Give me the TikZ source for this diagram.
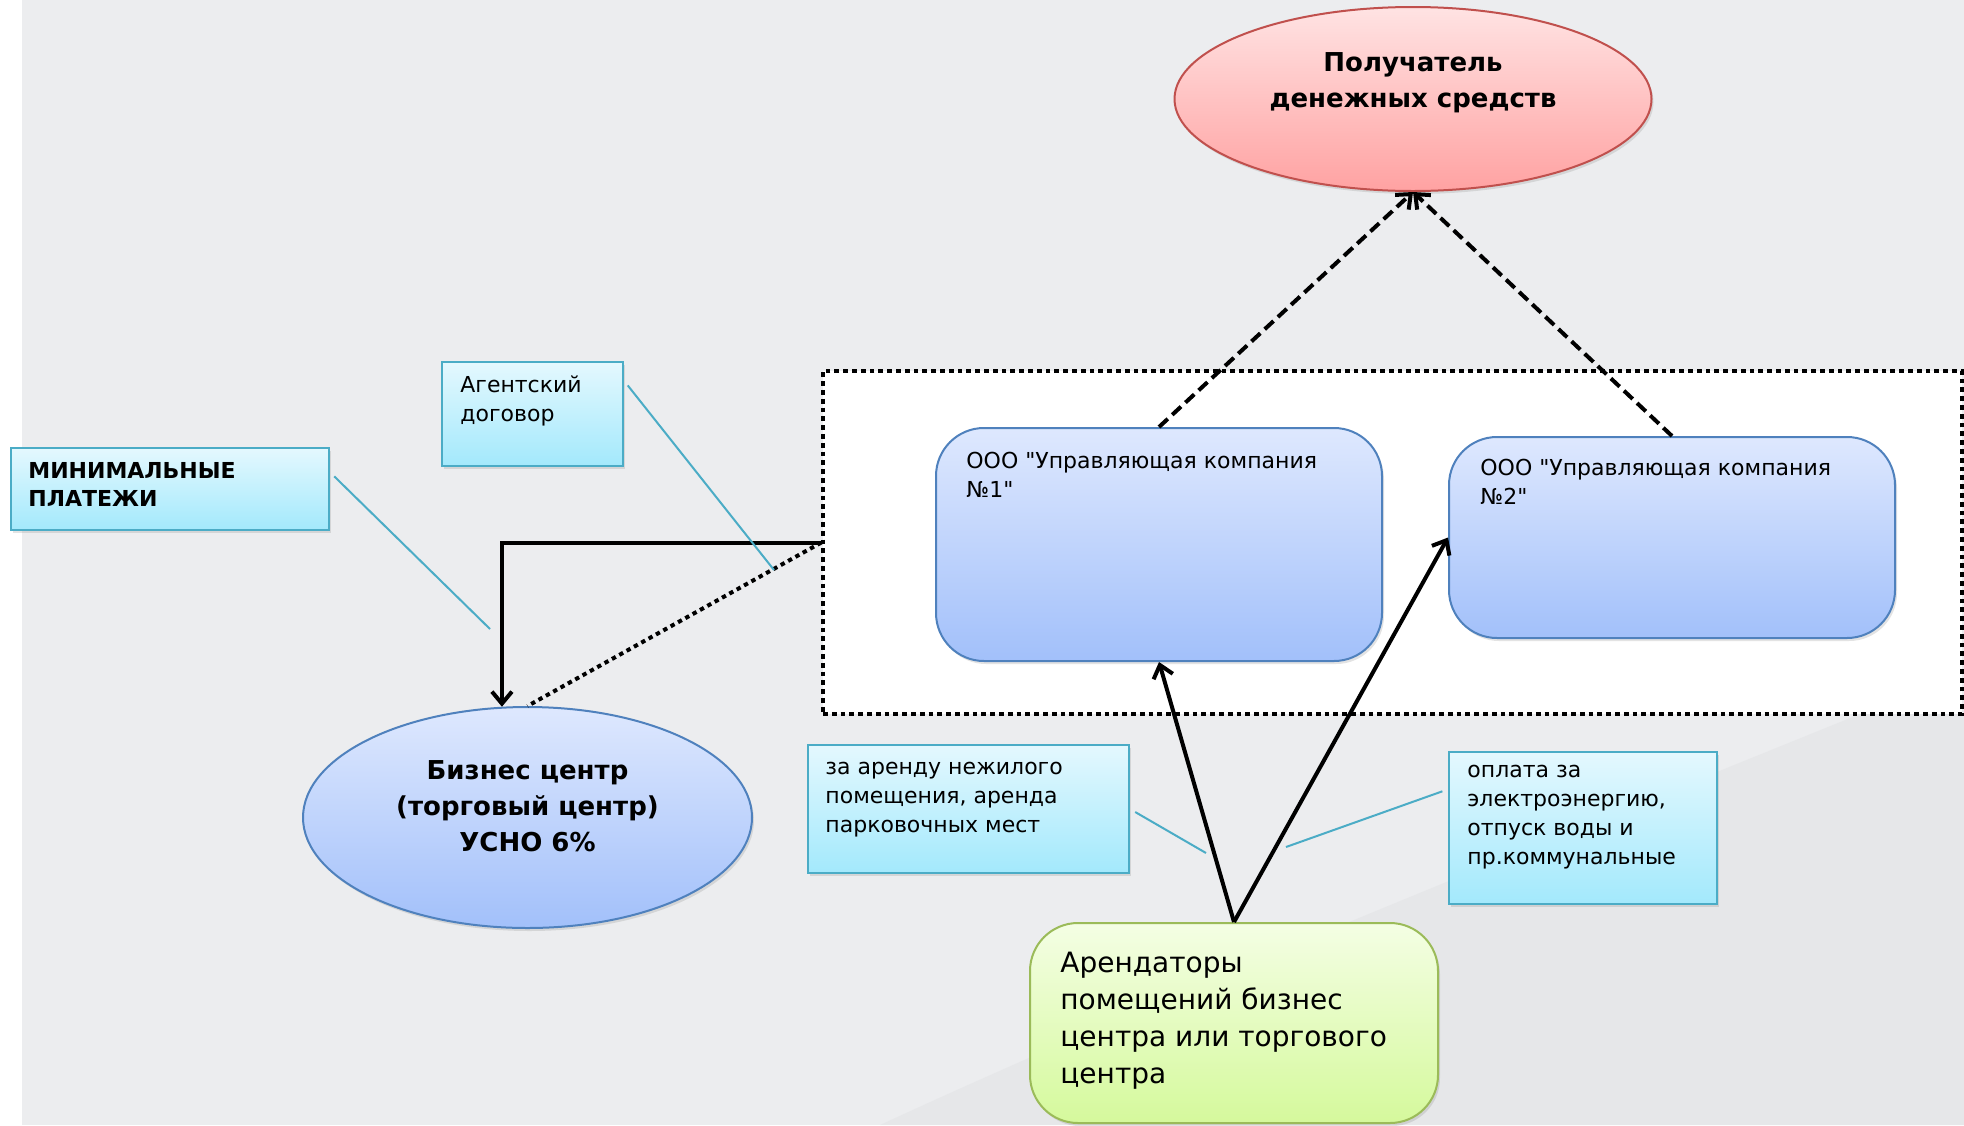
\documentclass[tikz,border=0pt]{standalone}
\usepackage{fontspec}
\setmainfont{DejaVu Sans}
\usetikzlibrary{positioning,shapes.geometric,arrows.meta,shadows}

\definecolor{bggray}{HTML}{ECEDEF}
\definecolor{bgdark}{HTML}{E6E7E9}
\definecolor{uktop}{HTML}{DEE8FE}
\definecolor{ukbot}{HTML}{A2C0FA}
\definecolor{ukline}{HTML}{4F81BD}
\definecolor{recvtop}{HTML}{FFE3E3}
\definecolor{recvbot}{HTML}{FFA2A2}
\definecolor{recvline}{HTML}{C0504D}
\definecolor{notetop}{HTML}{E4F8FE}
\definecolor{notebot}{HTML}{A3E9FC}
\definecolor{noteline}{HTML}{4BACC6}
\definecolor{tenanttop}{HTML}{F4FEE4}
\definecolor{tenantbot}{HTML}{D5F99C}
\definecolor{tenantline}{HTML}{9BBB59}

\tikzset{
    smalltext/.style={font=\fontsize{11}{14.5}\selectfont, align=left, inner sep=0pt},
    bigbold/.style={font=\bfseries\fontsize{13}{18}\selectfont, align=center},
    shadowed/.style={drop shadow={opacity=0.22, shadow xshift=1pt, shadow yshift=-1.5pt}},
    ukbox/.style={draw=ukline, line width=1pt, rounded corners=24pt, top color=uktop, bottom color=ukbot, shadowed, minimum width=223pt, inner sep=0pt},
    notebox/.style={draw=noteline, line width=1pt, top color=notetop, bottom color=notebot, shadowed, inner sep=0pt},
    flow/.style={line width=2pt, -{Straight Barb[length=6pt,width=10pt]}},
    dashflow/.style={flow, dash pattern=on 6pt off 3pt},
    dotline/.style={line width=2pt, dash pattern=on 2.2pt off 2pt},
    callout/.style={noteline, line width=1pt, shorten <=3pt}
}

\begin{document}
\begin{tikzpicture}[x=0.5pt,y=-0.5pt]
            \useasboundingbox (0,0) rectangle (1964,1125);
            \fill[white] (0,0) rectangle (1964,1125);
            \fill[bggray] (22,0) rectangle (1964,1125);
            \fill[bgdark] (1860,714) .. controls (1500,860) and (1150,1000) .. (880,1125) -- (1964,1125) -- (1964,714) -- cycle;

            \node[draw, fill=white, line width=1.7pt, dash pattern=on 2.4pt off 2pt, minimum width=569.5pt, minimum height=171.5pt, inner sep=0pt] (frame) at (1392.5,542.5) {};

            \node[ellipse, draw=recvline, line width=1pt, top color=recvtop, bottom color=recvbot, shadowed, minimum width=238.5pt, minimum height=92pt, inner sep=0pt] (recv) at (1413,99) {};
            \node[bigbold] (recvtxt) at ([yshift=8pt]recv.center) {Получатель\\денежных средств};

            \node[ukbox, minimum height=116.5pt] (uk1) at (1159,544.5) {};
            \node[smalltext, below right=12.5pt and 15.5pt of uk1.north west] (uk1txt) {ООО \textquotedbl Управляющая компания\\№1\textquotedbl};

            \node[ukbox, minimum height=100.5pt] (uk2) at (1672,537.5) {};
            \node[smalltext, below right=11.5pt and 16pt of uk2.north west] (uk2txt) {ООО \textquotedbl Управляющая компания\\№2\textquotedbl};

            \node[notebox, minimum width=90.5pt, minimum height=52pt] (agent) at (532.5,414) {};
            \node[smalltext, below right=7pt and 9.5pt of agent.north west] (agenttxt) {Агентский\\договор};

            \node[notebox, minimum width=159pt, minimum height=41pt] (minp) at (170,489) {};
            \node[smalltext, font=\bfseries\fontsize{11}{14}\selectfont, below right=7.5pt and 9pt of minp.north west] (mintxt) {МИНИМАЛЬНЫЕ\\ПЛАТЕЖИ};

            \node[ellipse, draw=ukline, line width=1pt, top color=uktop, bottom color=ukbot, shadowed, minimum width=224.5pt, minimum height=110.5pt, inner sep=0pt] (biz) at (527.5,817.5) {};
            \node[bigbold] (biztxt) at ([yshift=5.5pt]biz.center) {Бизнес центр\\(торговый центр)\\УСНО 6\%};

            \node[notebox, minimum width=160.5pt, minimum height=64pt] (rent) at (968.5,809) {};
            \node[smalltext, below right=9pt and 9pt of rent.north west] (renttxt) {за аренду нежилого\\помещения, аренда\\парковочных мест};

            \node[notebox, minimum width=134pt, minimum height=76pt] (util) at (1583,828) {};
            \node[smalltext, below right=7pt and 9.5pt of util.north west] (utiltxt) {оплата за\\электроэнергию,\\отпуск воды и\\пр.коммунальные};

            \node[draw=tenantline, line width=1pt, rounded corners=24pt, top color=tenanttop, bottom color=tenantbot, shadowed, minimum width=204pt, minimum height=100pt, inner sep=0pt] (tenant) at (1234,1023) {};
            \node[smalltext, font=\fontsize{14}{18.5}\selectfont, below right=15pt and 15.5pt of tenant.north west] (tenanttxt) {Арендаторы\\помещений бизнес\\центра или торгового\\центра};

            \draw[dashflow] (uk1.north) -- (recv.south);
            \draw[dashflow] (uk2.north) -- (recv.south);
            \draw[flow] (frame.west) -| (biz.103);
            \draw[dotline] (frame.west) -- (biz.north);
            \draw[flow] (tenant.north) -- (uk1.south);
            \draw[flow] (tenant.north) -- (uk2.west);

            \coordinate (agentend) at (774,570);
            \coordinate (minend) at (490,629);
            \coordinate (rentend) at (1206,853);
            \coordinate (utilend) at (1286,847);
            \draw[callout] (agent.20) -- (agentend);
            \draw[callout] (minp.6) -- (minend);
            \draw[callout] (rent.east) -- (rentend);
            \draw[callout] (util.164) -- (utilend);
\end{tikzpicture}
\end{document}
